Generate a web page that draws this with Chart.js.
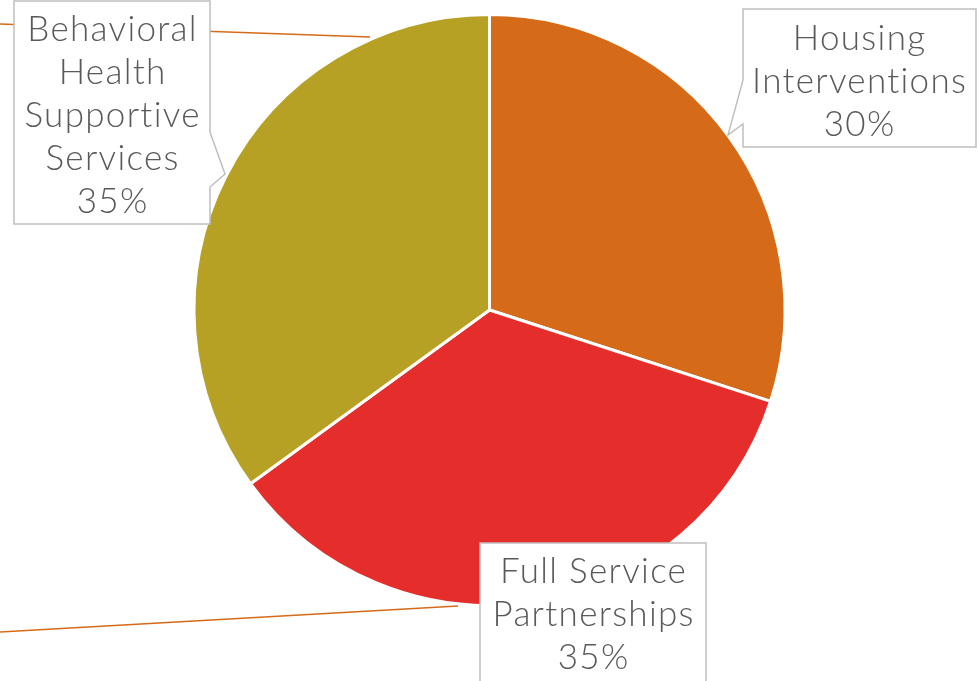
<!DOCTYPE html>
<html>
<head>
<meta charset="utf-8">
<script src="https://cdn.jsdelivr.net/npm/chart.js@4/dist/chart.umd.min.js"></script>
<style>
    html, body { margin: 0; padding: 0; background: #fff; }
    #wrap { width: 979px; height: 681px; position: relative; }
</style>
</head>
<body>
<div id="wrap"><canvas id="chart" width="979" height="681"></canvas></div>
<script>
'use strict';

const categories = ['Housing Interventions', 'Full Service Partnerships', 'Behavioral Health Supportive Services'];
const shares = [30, 35, 35];
const labelLines = [
    ['Housing', 'Interventions', '30%'],
    ['Full Service', 'Partnerships', '35%'],
    ['Behavioral', 'Health', 'Supportive', 'Services', '35%']
];
const sliceColors = ['#D56A18', '#E52D2B', '#B6A124'];

// callout boxes (layout only)
const callouts = [
    { x: 743, y: 9, w: 233, h: 138, cx: 859, top: 38, pointer: { side: 'left', from: 80, to: 124, tip: [728, 135] } },
    { x: 480, y: 543, w: 226, h: 150, cx: 593, top: 571, pointer: null },
    { x: 14, y: 1, w: 196, h: 223, cx: 112, top: 29, pointer: { side: 'right', from: 132, to: 187, tip: [225, 174] } }
];

const leaders = [
    [[0, 24], [370, 37]],
    [[0, 632], [458, 606]]
];

const calloutPlugin = {
    id: 'callouts',
    afterDraw(chart) {
        const ctx = chart.ctx;
        ctx.save();

        // leader lines
        ctx.strokeStyle = '#D56A18';
        ctx.lineWidth = 1.3;
        leaders.forEach(l => {
            ctx.beginPath();
            ctx.moveTo(l[0][0], l[0][1]);
            ctx.lineTo(l[1][0], l[1][1]);
            ctx.stroke();
        });

        callouts.forEach((c, i) => {
            ctx.beginPath();
            const p = c.pointer;
            ctx.moveTo(c.x, c.y);
            ctx.lineTo(c.x + c.w, c.y);
            if (p && p.side === 'right') {
                ctx.lineTo(c.x + c.w, p.from);
                ctx.lineTo(p.tip[0], p.tip[1]);
                ctx.lineTo(c.x + c.w, p.to);
            }
            ctx.lineTo(c.x + c.w, c.y + c.h);
            ctx.lineTo(c.x, c.y + c.h);
            if (p && p.side === 'left') {
                ctx.lineTo(c.x, p.to);
                ctx.lineTo(p.tip[0], p.tip[1]);
                ctx.lineTo(c.x, p.from);
            }
            ctx.closePath();
            ctx.fillStyle = '#fff';
            ctx.fill();
            ctx.strokeStyle = '#BFBFBF';
            ctx.lineWidth = 1.5;
            ctx.stroke();

            ctx.fillStyle = '#595959';
            ctx.font = '300 35px Lato';
            ctx.letterSpacing = '1.3px';
            ctx.textAlign = 'center';
            ctx.textBaseline = 'middle';
            labelLines[i].forEach((line, j) => {
                ctx.fillText(line, c.cx + 0.6, c.top + 1 + j * 43);
            });
        });

        ctx.restore();
    }
};

new Chart(document.getElementById('chart'), {
    type: 'pie',
    data: {
        labels: categories,
        datasets: [{
            data: shares,
            backgroundColor: sliceColors,
            borderColor: '#ffffff',
            borderWidth: 3
        }]
    },
    options: {
        responsive: false,
        animation: false,
        layout: {
            padding: { top: 13, bottom: 74 }
        },
        plugins: {
            legend: { display: false },
            tooltip: { enabled: false }
        }
    },
    plugins: [calloutPlugin]
});
</script>
</body>
</html>
